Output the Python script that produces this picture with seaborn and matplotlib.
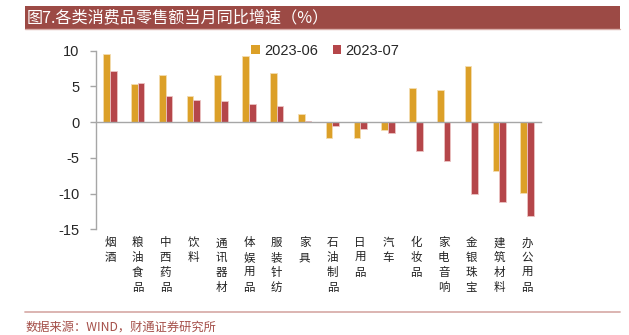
import matplotlib
matplotlib.use('Agg')
import matplotlib.pyplot as plt
import matplotlib.transforms as mtransforms
from matplotlib.patches import Rectangle
from matplotlib.lines import Line2D
import seaborn as sns
import pandas as pd

categories = ['烟酒', '粮油食品', '中西药品', '饮料', '通讯器材', '体娱用品', '服装针纺', '家具',
              '石油制品', '日用品', '汽车', '化妆品', '家电音响', '金银珠宝', '建筑材料', '办公用品']
jun_2023 = [9.6, 5.4, 6.6, 3.6, 6.6, 9.2, 6.9, 1.2, -2.2, -2.2, -1.1, 4.8, 4.5, 7.8, -6.8, -9.9]
jul_2023 = [7.2, 5.5, 3.7, 3.1, 3.0, 2.6, 2.3, 0.1, -0.6, -1.0, -1.5, -4.1, -5.5, -10.0, -11.2, -13.1]
series_names = ['2023-06', '2023-07']
yticks = [10, 5, 0, -5, -10, -15]
title = '图7.各类消费品零售额当月同比增速（%）'
source = '数据来源：WIND，财通证券研究所'

colors = ['#DCA028', '#B5464A']
edge_colors = ['#F3DDB0', '#EBC3C3']

sns.set_style('white')
plt.rcParams['font.family'] = ['Liberation Sans', 'Noto Sans CJK SC', 'DejaVu Sans']
plt.rcParams['axes.unicode_minus'] = False

df = pd.DataFrame({
    'cat': categories * 2,
    'val': jun_2023 + jul_2023,
    'series': [series_names[0]] * len(categories) + [series_names[1]] * len(categories),
})

W, H = 629, 335
fig = plt.figure(figsize=(W / 100, H / 100), dpi=100)
left, right, top, bottom = 96, 541, 50.7, 229.3
ax = fig.add_axes([left / W, 1 - bottom / H, (right - left) / W, (bottom - top) / H])

sns.barplot(data=df, x='cat', y='val', hue='series', order=categories, hue_order=series_names,
            palette=colors, width=0.48, saturation=1, ax=ax, legend=False, linewidth=0.6)
for cont, ec in zip(ax.containers, edge_colors):
    for p in cont:
        p.set_edgecolor(ec)

ax.set_xlim(-0.5, len(categories) - 0.5)
ax.set_ylim(-15, 10)
ax.set_yticks(yticks)
ax.set_yticklabels([str(v) for v in yticks], fontsize=10.5)
ax.set_xlabel('')
ax.set_ylabel('')

for s in ['top', 'right']:
    ax.spines[s].set_visible(False)
axis_col = '#A6A6A6'
ax.spines['left'].set_color(axis_col)
ax.spines['left'].set_linewidth(1.0)
ax.spines['bottom'].set_position(('data', 0))
ax.spines['bottom'].set_color(axis_col)
ax.spines['bottom'].set_linewidth(1.0)

ax.set_xticks(range(len(categories)))
ax.set_xticklabels([])
ax.set_xticks([i - 0.5 for i in range(len(categories) + 1)], minor=True)
ax.tick_params(axis='x', which='major', length=0)
ax.tick_params(axis='x', which='minor', length=4, width=1.0, color=axis_col, direction='out')
ax.tick_params(axis='y', length=4, width=1.0, color=axis_col, direction='out', pad=8, left=True)

trans = mtransforms.blended_transform_factory(ax.transData, ax.transAxes)
for i, cat in enumerate(categories):
    ax.text(i, -0.04, '\n'.join(cat), transform=trans, ha='center', va='top',
            fontsize=8.3, linespacing=1.18, family=['Noto Sans CJK SC'], color='#222222')

handles = [Rectangle((0, 0), 1, 1, facecolor=c, edgecolor='none') for c in colors]
fig.legend(handles, series_names, loc='upper left', bbox_to_anchor=(251 / W, 1 - 44 / H),
           ncol=2, frameon=False, fontsize=10.5, handlelength=0.6, handleheight=0.6,
           handletextpad=0.3, columnspacing=1.0, borderaxespad=0, borderpad=0)

# title band
fig.patches.append(Rectangle((25 / W, 1 - 28.5 / H), (620 - 25) / W, 22.5 / H,
                             transform=fig.transFigure, facecolor='#9C4A45', edgecolor='none'))
fig.lines.append(Line2D([25 / W, 620 / W], [1 - 28.5 / H] * 2, transform=fig.transFigure,
                        color='#D9AFAB', lw=1.0))
fig.text(27 / W, 1 - 17.5 / H, title, color='white', fontsize=11.6, va='center', ha='left',
         family=['Noto Sans CJK SC', 'DejaVu Sans'])

# bottom rule and source
fig.lines.append(Line2D([25 / W, 620 / W], [1 - 311.7 / H] * 2, transform=fig.transFigure,
                        color='#D9AFAB', lw=1.3))
fig.text(26 / W, 1 - 327 / H, source, color='#A5504A', fontsize=8.8, va='center', ha='left',
         family=['Noto Sans CJK SC', 'DejaVu Sans'])

fig.savefig('out.png', dpi=100)
